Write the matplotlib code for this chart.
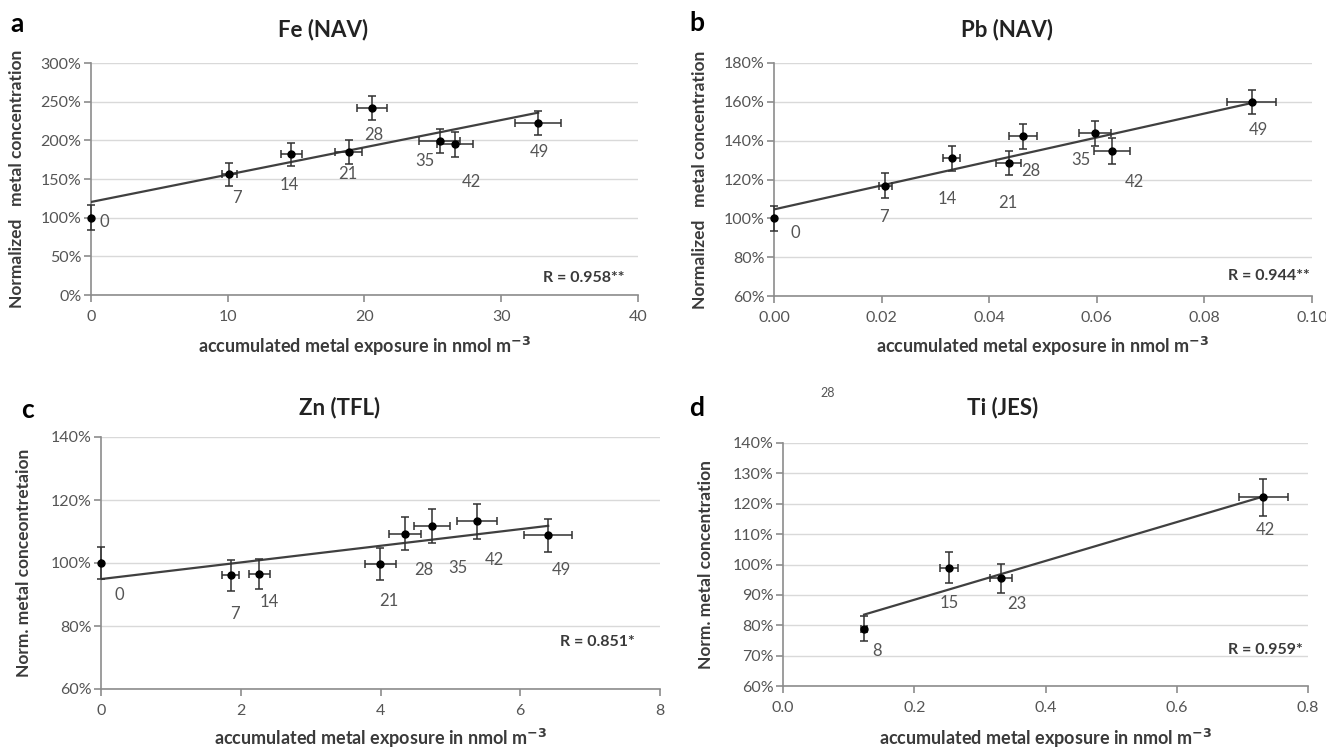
import matplotlib
matplotlib.use("Agg")
import matplotlib.pyplot as plt
from matplotlib.ticker import FuncFormatter

plt.rcParams['font.family'] = ['Lato', 'DejaVu Sans']

# ---------------- data ----------------
# Panel a: Fe (NAV)
fe_x = [0.0, 10.1, 14.66, 18.83, 20.55, 25.5, 26.6, 32.7]
fe_y = [100, 156, 182, 185, 242, 199, 195, 222]
fe_xerr = [0.0, 0.55, 0.8, 1.0, 1.1, 1.5, 1.3, 1.7]
fe_yerr = [16, 15, 15, 16, 15.5, 15.5, 16, 15.5]
fe_days = ['0', '7', '14', '21', '28', '35', '42', '49']
fe_lab_x = [1.0, 10.7, 14.5, 18.8, 20.7, 24.4, 27.8, 32.8]
fe_lab_y = [94, 125, 142, 156, 207, 173, 146, 185]
fe_fit_x = [0.0, 32.7]
fe_fit_y = [120.3, 235.8]

# Panel b: Pb (NAV)
pb_x = [0.0, 0.0207, 0.033, 0.0436, 0.0462, 0.0596, 0.0628, 0.0888]
pb_y = [100, 116.9, 131, 128.6, 142.3, 143.7, 134.7, 159.8]
pb_xerr = [0.0, 0.0012, 0.0016, 0.0023, 0.0026, 0.003, 0.0033, 0.0046]
pb_yerr = [6.3, 6.5, 6.4, 6.2, 6.4, 6.4, 6.5, 6.3]
pb_days = ['0', '7', '14', '21', '28', '35', '42', '49']
pb_lab_x = [0.0039, 0.0205, 0.0322, 0.0435, 0.0478, 0.0570, 0.0669, 0.0901]
pb_lab_y = [92.2, 100.8, 110.2, 108, 124.5, 130.3, 118.8, 145.4]
pb_fit_x = [0.0, 0.0888]
pb_fit_y = [104.6, 159.4]

# Panel c: Zn (TFL)
zn_x = [0.0, 1.856, 2.263, 3.997, 4.35, 4.74, 5.378, 6.4]
zn_y = [100, 96.1, 96.5, 99.7, 109.3, 111.8, 113.2, 108.8]
zn_xerr = [0.0, 0.12, 0.15, 0.22, 0.23, 0.26, 0.29, 0.34]
zn_yerr = [5, 5, 4.8, 5, 5.3, 5.4, 5.6, 5.3]
zn_days = ['0', '7', '14', '21', '28', '35', '42', '49']
zn_lab_x = [0.26, 1.92, 2.41, 4.12, 4.62, 5.11, 5.63, 6.59]
zn_lab_y = [90, 83.9, 87.7, 87.9, 97.8, 98.5, 101, 97.8]
zn_fit_x = [0.0, 6.4]
zn_fit_y = [94.9, 111.8]

# Panel d: Ti (JES)
ti_x = [0.1236, 0.253, 0.332, 0.732]
ti_y = [78.9, 98.95, 95.4, 122.06]
ti_xerr = [0.005, 0.0135, 0.017, 0.037]
ti_yerr = [4, 5.2, 4.8, 6.1]
ti_days = ['8', '15', '23', '42']
ti_lab_x = [0.144, 0.254, 0.356, 0.735]
ti_lab_y = [71.4, 87.2, 86.9, 111.4]
ti_fit_x = [0.1236, 0.732]
ti_fit_y = [83.5, 122.4]

W, H = 1326, 749
fig = plt.figure(figsize=(W / 100, H / 100), dpi=100)


def ax_at(x0, x1, ytop, ybot):
    return fig.add_axes([x0 / W, 1 - ybot / H, (x1 - x0) / W, (ybot - ytop) / H])


GRID = '#d9d9d9'
SPINE = '#8c8c8c'
TXT = '#555555'
LAB = '#3a3a3a'


def panel(ax, x, y, xerr, yerr, days, lx, ly, fx, fy, xlim, ylim, xticks, yticks,
          xfmt, title, letter, ylabel, rtext, lpos, title_xy, letter_xy, ylab_x, xlab_y, bbox):
    ax.set_xlim(*xlim)
    ax.set_ylim(*ylim)
    ax.set_xticks(xticks)
    ax.set_yticks(yticks)
    ax.xaxis.set_major_formatter(FuncFormatter(lambda v, p: xfmt.format(v)))
    ax.yaxis.set_major_formatter(FuncFormatter(lambda v, p: '{:.0f}%'.format(v)))
    for s in ['top', 'right']:
        ax.spines[s].set_visible(False)
    for s in ['left', 'bottom']:
        ax.spines[s].set_color(SPINE)
        ax.spines[s].set_linewidth(1.2)
    ax.tick_params(axis='both', colors=SPINE, labelcolor=TXT, labelsize=11.5,
                   length=5, width=1.2)
    ax.tick_params(axis='x', pad=6)
    ax.tick_params(axis='y', pad=2)
    ax.grid(axis='y', color=GRID, linewidth=1.0)
    ax.set_axisbelow(True)
    ax.plot(fx, fy, color='#404040', linewidth=1.6, zorder=3)
    ax.errorbar(x, y, xerr=xerr, yerr=yerr, fmt='o', color='black', ecolor='#303030',
                markersize=5, elinewidth=1.1, capsize=3, capthick=1.1, zorder=4,
                clip_on=False)
    for t, a, b in zip(days, lx, ly):
        ax.text(a, b, t, color=TXT, fontsize=12, ha='center', va='center')
    ax.text(lpos[0], lpos[1], rtext, transform=ax.transAxes, ha='right', va='center',
            fontsize=11.5, fontweight='bold', color=LAB)
    cx = (bbox[0] + bbox[1]) / 2
    fig.text(title_xy[0] / W, 1 - title_xy[1] / H, title, ha='center', va='center',
             fontsize=16, fontweight='bold', color='#222222')
    fig.text(letter_xy[0] / W, 1 - letter_xy[1] / H, letter, ha='center', va='center',
             fontsize=19, fontweight='bold', color='black')
    fig.text(ylab_x / W, 1 - ((bbox[2] + bbox[3]) / 2) / H, ylabel, rotation=90,
             ha='center', va='center', fontsize=12.5, fontweight='bold', color=LAB)
    fig.text(cx / W, 1 - xlab_y / H, 'accumulated metal exposure in nmol m$^{\\mathbf{-3}}$',
             ha='center', va='center', fontsize=13, fontweight='bold', color=LAB)


# Panel a
bb = (91, 638, 63, 295)
axa = ax_at(*bb)
panel(axa, fe_x, fe_y, fe_xerr, fe_yerr, fe_days, fe_lab_x, fe_lab_y, fe_fit_x, fe_fit_y,
      (0, 40), (0, 300), [0, 10, 20, 30, 40], [0, 50, 100, 150, 200, 250, 300], '{:.0f}',
      'Fe (NAV)', 'a', 'Normalized   metal concentration', 'R = 0.958**', (0.975, 0.075),
      (323, 30), (17, 24), 17, 346, bb)

# Panel b
bb = (774, 1312, 63, 296)
axb = ax_at(*bb)
panel(axb, pb_x, pb_y, pb_xerr, pb_yerr, pb_days, pb_lab_x, pb_lab_y, pb_fit_x, pb_fit_y,
      (0, 0.1), (60, 180), [0, 0.02, 0.04, 0.06, 0.08, 0.10], [60, 80, 100, 120, 140, 160, 180],
      '{:.2f}', 'Pb (NAV)', 'b', 'Normalized   metal concentration', 'R = 0.944**',
      (0.995, 0.085), (1007, 30), (697, 23), 700, 346, bb)

# Panel c
bb = (101, 660, 437, 689)
axc = ax_at(*bb)
panel(axc, zn_x, zn_y, zn_xerr, zn_yerr, zn_days, zn_lab_x, zn_lab_y, zn_fit_x, zn_fit_y,
      (0, 8), (60, 140), [0, 2, 4, 6, 8], [60, 80, 100, 120, 140], '{:.0f}',
      'Zn (TFL)', 'c', 'Norm. metal conceontretaion', 'R = 0.851*', (0.955, 0.185),
      (340, 408), (28, 410), 24, 738, bb)

# Panel d
bb = (783, 1308, 443, 686)
axd = ax_at(*bb)
panel(axd, ti_x, ti_y, ti_xerr, ti_yerr, ti_days, ti_lab_x, ti_lab_y, ti_fit_x, ti_fit_y,
      (0, 0.8), (60, 140), [0, 0.2, 0.4, 0.6, 0.8], [60, 70, 80, 90, 100, 110, 120, 130, 140],
      '{:.1f}', 'Ti (JES)', 'd', 'Norm. metal concentration', 'R = 0.959*', (0.99, 0.15),
      (1003, 408), (697, 408), 706, 738, bb)

fig.text(828 / W, 1 - 393 / H, '28', ha='center', va='center', fontsize=9, color=TXT)

fig.savefig('out.png', dpi=100, facecolor='white')
